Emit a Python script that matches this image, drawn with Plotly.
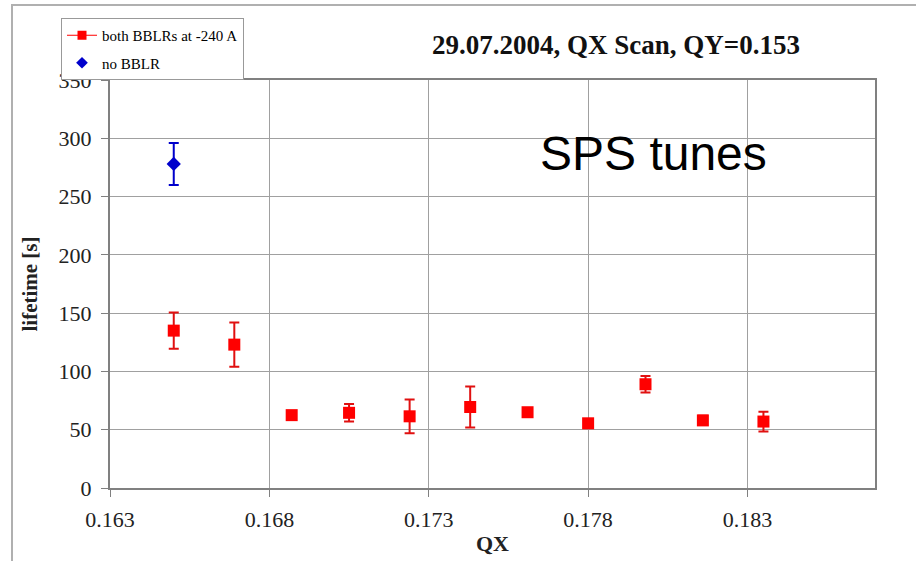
import plotly.graph_objects as go

# ---- data ----
qx_bblr = [0.1650, 0.1669, 0.1687, 0.1705, 0.1724, 0.1743, 0.1761, 0.1780, 0.1798, 0.1816, 0.1835]
life_bblr = [135, 123, 62.5, 64.5, 61.5, 69.5, 65, 55.5, 89, 58, 57]
err_bblr = [15.5, 19, 2, 7.5, 14.5, 17.5, 3, 3, 7, 4, 8.5]

qx_nobblr = [0.1650]
life_nobblr = [278]
err_nobblr = [18]

x_ticks = [0.163, 0.168, 0.173, 0.178, 0.183]
x_tick_labels = ["0.163", "0.168", "0.173", "0.178", "0.183"]
y_ticks = [0, 50, 100, 150, 200, 250, 300, 350]

name_bblr = "both BBLRs at -240 A"
name_nobblr = "no BBLR"
title_text = "29.07.2004, QX Scan, QY=0.153"
note_text = "SPS tunes"

RED = "#ff0000"
RED_ERR = "#e01010"
BLUE = "#0000cc"
SERIF = "Liberation Serif, Times New Roman, serif"
SANS = "Liberation Sans, Arial, sans-serif"

fig = go.Figure()

# data traces
fig.add_trace(go.Scatter(
    x=qx_bblr, y=life_bblr, mode="markers", name=name_bblr, showlegend=False,
    marker=dict(symbol="square", size=12, color=RED),
    error_y=dict(type="data", array=err_bblr, color=RED_ERR, thickness=2, width=5),
))
fig.add_trace(go.Scatter(
    x=qx_nobblr, y=life_nobblr, mode="markers", name=name_nobblr, showlegend=False,
    marker=dict(symbol="diamond", size=11, color=BLUE),
    error_y=dict(type="data", array=err_nobblr, color=BLUE, thickness=2, width=5),
))
# legend-only entries (line + marker symbol as in the reference legend)
fig.add_trace(go.Scatter(
    x=[None], y=[None], mode="lines+markers", name=name_bblr, legendgroup="a",
    line=dict(color=RED, width=1), marker=dict(symbol="square", size=9, color=RED),
))
fig.add_trace(go.Scatter(
    x=[None], y=[None], mode="markers", name=name_nobblr, legendgroup="b",
    marker=dict(symbol="diamond", size=9, color=BLUE),
))

L, R, T, B = 110, 41, 80, 73
W, H = 916, 561
pw, ph = W - L - R, H - T - B

def px_x(p):
    return (p - L) / pw

def px_y(p):
    return (H - B - p) / ph

fig.update_layout(
    width=W, height=H,
    margin=dict(l=L, r=R, t=T, b=B, autoexpand=False),
    paper_bgcolor="white", plot_bgcolor="white",
    font=dict(family=SERIF, color="black"),
    showlegend=True,
    legend=dict(
        x=px_x(61), y=px_y(18), xanchor="left", yanchor="top",
        bgcolor="white", bordercolor="#999999", borderwidth=1,
        font=dict(family=SERIF, size=15, color="black"),
        tracegroupgap=5, itemwidth=30,
    ),
    xaxis=dict(
        range=[0.163, 0.187], tickvals=x_ticks, ticktext=x_tick_labels,
        automargin=False,
        showgrid=True, gridcolor="#a0a0a0", gridwidth=1,
        showline=True, linecolor="#808080", linewidth=2, mirror=True,
        ticks="outside", ticklen=7, tickcolor="#808080", tickwidth=1,
        tickfont=dict(family=SERIF, size=22, color="#222222"),
        ticklabelstandoff=4,
        title=dict(text="<b>QX</b>", font=dict(family=SERIF, size=22, color="#222222"), standoff=4),
        zeroline=False,
    ),
    yaxis=dict(
        range=[0, 350], tickvals=y_ticks,
        automargin=False,
        showgrid=True, gridcolor="#a0a0a0", gridwidth=1,
        showline=True, linecolor="#808080", linewidth=2, mirror=True,
        ticks="outside", ticklen=7, tickcolor="#808080", tickwidth=1,
        tickfont=dict(family=SERIF, size=22, color="#222222"),
        ticklabelstandoff=5,
        title=dict(text="<b>lifetime [s]</b>", font=dict(family=SERIF, size=21, color="#222222"), standoff=15),
        zeroline=False,
    ),
    annotations=[
        dict(text="<b>" + title_text + "</b>", x=px_x(616), y=px_y(45), xref="paper", yref="paper",
             xanchor="center", yanchor="middle", showarrow=False,
             font=dict(family=SERIF, size=27, color="#111111")),
        dict(text=note_text, x=px_x(538), y=px_y(153), xref="paper", yref="paper",
             xanchor="left", yanchor="middle", showarrow=False,
             font=dict(family=SANS, size=48, color="black")),
    ],
    shapes=[
        dict(type="path", xref="paper", yref="paper",
             path=f"M {px_x(12)},{px_y(565)} L {px_x(12)},{px_y(5)} L {px_x(920)},{px_y(5)}",
             line=dict(color="#b0b0b0", width=2)),
    ],
)

fig.write_html("out.html")
